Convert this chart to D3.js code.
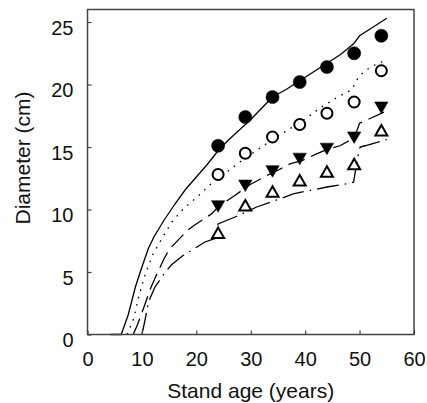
<!DOCTYPE html>
<html>
<head>
  <title>Diameter vs stand age</title>
  <style type="text/css">
    body { margin: 0; background: #fff; }
    svg { display: block; }
    text { font-family: 'Liberation Sans', Arial, sans-serif; fill: #111; }
  </style>
</head>
<body>

<svg id='vis' width='427' height='403'></svg>

<script src="https://cdnjs.cloudflare.com/ajax/libs/d3/7.8.5/d3.min.js"></script>
<script type="text/javascript">

  // observed means
  var ages = [24, 29, 34, 39, 44, 49, 54];
  var filledCircle = [15.1, 17.4, 19.0, 20.2, 21.4, 22.5, 23.9];
  var openCircle   = [12.8, 14.5, 15.8, 16.8, 17.7, 18.6, 21.1];
  var filledTri    = [10.4, 12.05, 13.2, 14.2, 15.0, 15.9, 18.3];
  var openTri      = [8.0, 10.2, 11.3, 12.2, 12.9, 13.5, 16.2];

  // model curves
  var solidAge = [4.2, 6.2, 7.5, 8.8, 10, 11.2, 12.2, 14, 16, 18, 20, 22, 24, 26, 28, 30, 32, 34, 36.5, 39, 41.5, 44, 46.5, 48.9, 50, 52.5, 55];
  var solidD   = [0, 0, 1.6, 3.8, 5.4, 6.9, 7.8, 9.1, 10.4, 11.6, 12.6, 13.6, 14.7, 15.6, 16.4, 17.2, 18.1, 19.0, 19.6, 20.3, 21.0, 21.7, 22.4, 23.25, 23.9, 24.6, 25.3];

  var dotAge = [7.3, 8.5, 9.4, 10.6, 12, 13.7, 15.5, 17.6, 20.4, 22.8, 25.6, 28, 31, 34, 37, 40.5, 43, 46, 48.6, 49.8, 51, 52.5, 54.5];
  var dotD   = [0, 1.3, 3.0, 4.8, 6.4, 7.7, 9.0, 10.05, 11.1, 12.1, 13.0, 13.8, 14.7, 15.6, 16.4, 17.4, 18.2, 19.0, 19.6, 20.6, 21.1, 21.5, 21.9];

  var dashAge = [8.4, 9.2, 10.3, 11.5, 12.5, 14, 15, 18.3, 19.5, 22.8, 24, 25.3, 27, 29.9, 32.9, 34.8, 37.2, 39.4, 42.1, 44, 46.4, 48.5, 49.5, 50, 53.8, 55];
  var dashD   = [0, 0.8, 2.1, 3.6, 4.6, 6.0, 6.8, 8.3, 8.7, 9.65, 10.2, 10.6, 11.1, 12.0, 12.7, 13.1, 13.65, 13.9, 14.45, 14.8, 15.1, 15.6, 16.3, 16.9, 17.65, 17.9];

  var ddAge = [10, 10.5, 11.2, 12.4, 14.3, 15.5, 17.5, 20.1, 21.6, 23.6, 23.8, 24, 27.1, 31.1, 35.4, 37.8, 44, 48.2, 48.9, 49.2, 49.8, 50.1, 51, 55];
  var ddD   = [0, 1.0, 2.6, 3.8, 5.0, 5.6, 6.3, 7.0, 7.4, 7.7, 8.5, 8.85, 9.4, 10.2, 10.85, 11.25, 11.8, 12.1, 12.2, 13.0, 14.45, 15.0, 15.1, 15.6];

  var xTicks = [0, 10, 20, 30, 40, 50, 60];
  var yTicks = [0, 5, 10, 15, 20, 25];

  var width = 427, height = 403,
      margin = { top: 9.5, right: 13, bottom: 68.5, left: 87.5 };

  var svg = d3.select('#vis');

  var x = d3.scaleLinear()
    .domain([0, 60])
    .range([margin.left, width - margin.right]);
  var y = d3.scaleLinear()
    .domain([0, 26])
    .range([height - margin.bottom, margin.top]);

  function zip(a, b) { return a.map(function(v, i) { return [v, b[i]]; }); }

  var line = d3.line()
    .x(function(d) { return x(d[0]); })
    .y(function(d) { return y(d[1]); });

  var curves = [
    { pts: zip(solidAge, solidD), dash: null },
    { pts: zip(dotAge, dotD), dash: '1.6,6' },
    { pts: zip(dashAge, dashD), dash: '17,7' },
    { pts: zip(ddAge, ddD), dash: '22,6,1.6,6' }
  ];

  svg.append('g')
    .selectAll('path')
    .data(curves)
    .enter().append('path')
      .attr('d', function(d) { return line(d.pts); })
      .attr('fill', 'none')
      .attr('stroke', '#000')
      .attr('stroke-width', 1.3)
      .attr('stroke-dasharray', function(d) { return d.dash; });

  // frame
  svg.append('rect')
    .attr('x', x(0)).attr('y', y(26))
    .attr('width', x(60) - x(0))
    .attr('height', y(0) - y(26))
    .attr('fill', 'none')
    .attr('stroke', '#444')
    .attr('stroke-width', 1.5);

  // axes with inward ticks
  var xAxis = svg.append('g')
    .attr('transform', 'translate(0,' + y(0) + ')')
    .call(d3.axisBottom(x).tickValues(xTicks).tickSizeInner(-4).tickSizeOuter(0).tickPadding(17));
  var yAxis = svg.append('g')
    .attr('transform', 'translate(' + x(0) + ',0)')
    .call(d3.axisLeft(y).tickValues(yTicks).tickSizeInner(-4).tickSizeOuter(0).tickPadding(14));

  [xAxis, yAxis].forEach(function(a) {
    a.select('.domain').remove();
    a.selectAll('line').attr('stroke', '#444').attr('stroke-width', 1.2);
    a.selectAll('text')
      .attr('font-size', 20)
      .attr('font-family', "'Liberation Sans', Arial, sans-serif")
      .attr('fill', '#111');
  });
  yAxis.selectAll('text').attr('dy', '0.62em');

  // markers
  var series = [
    { vals: filledCircle, type: d3.symbolCircle, size: 135, fill: '#000', rot: 0 },
    { vals: openCircle, type: d3.symbolCircle, size: 95, fill: 'none', rot: 0 },
    { vals: filledTri, type: d3.symbolTriangle, size: 78, fill: '#000', rot: 180 },
    { vals: openTri, type: d3.symbolTriangle, size: 62, fill: 'none', rot: 0 }
  ];

  series.forEach(function(s) {
    svg.append('g')
      .selectAll('path')
      .data(s.vals)
      .enter().append('path')
        .attr('d', d3.symbol().type(s.type).size(s.size))
        .attr('transform', function(d, i) {
          return 'translate(' + x(ages[i]) + ',' + y(d) + ') rotate(' + s.rot + ')';
        })
        .attr('fill', s.fill === 'none' ? '#fff' : s.fill)
        .attr('stroke', '#000')
        .attr('stroke-width', s.fill === 'none' ? 2 : 0.5);
  });

  // axis titles
  svg.append('text')
    .attr('x', (x(0) + x(60)) / 2)
    .attr('y', 398)
    .attr('text-anchor', 'middle')
    .attr('font-size', 21)
    .text('Stand age (years)');

  svg.append('text')
    .attr('transform', 'translate(30,' + 158 + ') rotate(-90)')
    .attr('text-anchor', 'middle')
    .attr('font-size', 21)
    .text('Diameter (cm)');

</script>
</body>
</html>
